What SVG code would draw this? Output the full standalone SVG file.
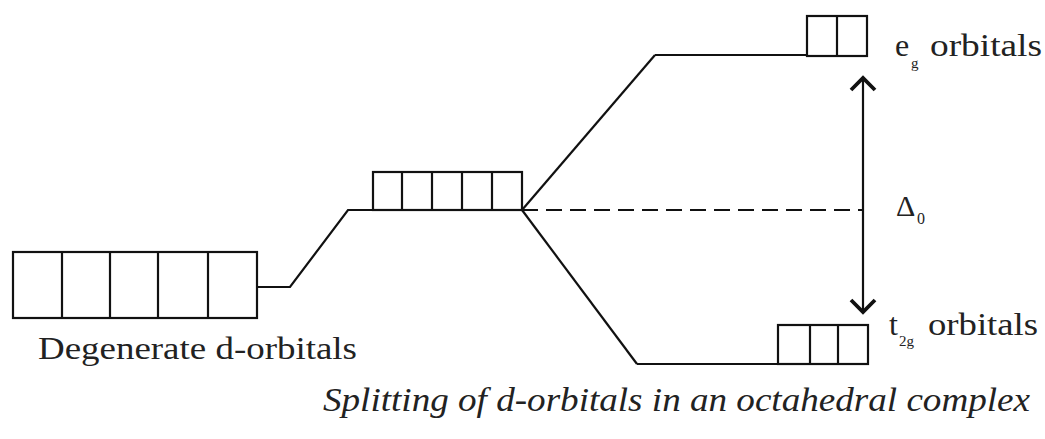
<svg xmlns="http://www.w3.org/2000/svg" width="1045" height="439" viewBox="0 0 1045 439">
<defs>
<style>
.ln{stroke:#111;stroke-width:2.2;fill:none}
.bx{stroke:#111;stroke-width:2.2;fill:#fff}
.t{font-family:"Liberation Serif",serif;fill:#222}
</style>
<marker id="ah" viewBox="0 0 28 28" refX="15" refY="14" markerWidth="28" markerHeight="28" markerUnits="userSpaceOnUse" orient="auto-start-reverse">
<path d="M3,2 L15,14 L3,26" fill="none" stroke="#111" stroke-width="3.8" stroke-linejoin="miter"/>
</marker>
</defs>
<rect width="1045" height="439" fill="#fff"/>
<g id="connectors">
<polyline class="ln" points="257,287 290,287 348,210 373,210"/>
<line class="ln" x1="522" y1="210" x2="655" y2="55"/>
<line class="ln" x1="655" y1="55" x2="807" y2="55"/>
<line class="ln" x1="522" y1="210" x2="637" y2="364"/>
<line class="ln" x1="637" y1="364" x2="778" y2="364"/>
<line class="ln" x1="522" y1="210" x2="862" y2="210" stroke-dasharray="16,8"/>
<line class="ln" x1="863" y1="78" x2="863" y2="312" marker-start="url(#ah)" marker-end="url(#ah)"/>
</g>
<g id="degenerate">
<rect class="bx" x="13" y="252" width="244" height="66"/>
<line class="ln" x1="62" y1="252" x2="62" y2="318"/>
<line class="ln" x1="110" y1="252" x2="110" y2="318"/>
<line class="ln" x1="158" y1="252" x2="158" y2="318"/>
<line class="ln" x1="208" y1="252" x2="208" y2="318"/>
<text class="t" x="38" y="359" font-size="32" textLength="319" lengthAdjust="spacingAndGlyphs">Degenerate d-orbitals</text>
</g>
<g id="barycenter">
<rect class="bx" x="373" y="172" width="149" height="38"/>
<line class="ln" x1="402" y1="172" x2="402" y2="210"/>
<line class="ln" x1="432" y1="172" x2="432" y2="210"/>
<line class="ln" x1="462" y1="172" x2="462" y2="210"/>
<line class="ln" x1="492" y1="172" x2="492" y2="210"/>
</g>
<g id="eg">
<rect class="bx" x="807" y="16" width="60" height="40"/>
<line class="ln" x1="837" y1="16" x2="837" y2="56"/>
<text class="t" x="895" y="56" font-size="32">e</text>
<text class="t" x="911" y="68" font-size="15">g</text>
<text class="t" x="930" y="56" font-size="32" textLength="112" lengthAdjust="spacingAndGlyphs">orbitals</text>
</g>
<g id="t2g">
<rect class="bx" x="778" y="325" width="90" height="39"/>
<line class="ln" x1="810" y1="325" x2="810" y2="364"/>
<line class="ln" x1="838" y1="325" x2="838" y2="364"/>
<text class="t" x="889" y="335" font-size="32">t</text>
<text class="t" x="899" y="346" font-size="15">2g</text>
<text class="t" x="928" y="335" font-size="32" textLength="110" lengthAdjust="spacingAndGlyphs">orbitals</text>
</g>
<g id="delta">
<text class="t" x="896" y="216" font-size="30">Δ</text>
<text class="t" x="917" y="224" font-size="16">0</text>
</g>
<text class="t" x="323" y="411" font-size="34" font-style="italic" textLength="707" lengthAdjust="spacingAndGlyphs">Splitting of d-orbitals in an octahedral complex</text>
</svg>
